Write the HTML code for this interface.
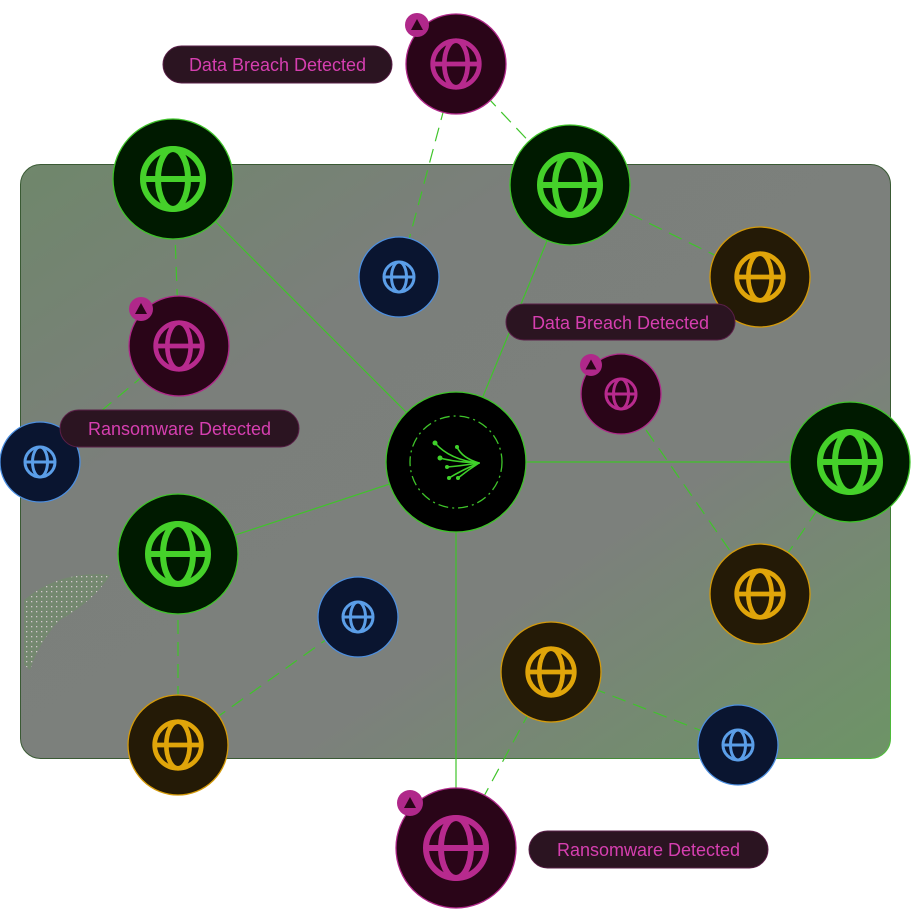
<!DOCTYPE html>
<html><head><meta charset="utf-8"><style>
html,body{margin:0;padding:0;background:#fff;width:912px;height:923px;overflow:hidden}
svg{display:block}
text{font-family:"Liberation Sans",sans-serif}
</style></head><body>
<svg width="912" height="923" viewBox="0 0 912 923" xmlns="http://www.w3.org/2000/svg">
<defs>
<linearGradient id="pg" x1="0" y1="0" x2="1" y2="1">
<stop offset="0" stop-color="#6f876b"/><stop offset="0.3" stop-color="#7b7f7b"/><stop offset="0.65" stop-color="#7c807c"/><stop offset="1" stop-color="#6d9466"/>
</linearGradient>
<linearGradient id="bd" x1="0" y1="0" x2="1" y2="1">
<stop offset="0" stop-color="#3a5a34"/><stop offset="0.7" stop-color="#3a5a34"/><stop offset="1" stop-color="#4fc23a"/>
</linearGradient>
<pattern id="dots" width="5" height="5" patternUnits="userSpaceOnUse"><rect width="5" height="5" fill="#728a6c"/><rect x="1" y="1" width="1.3" height="1.3" fill="#e8d8e0"/></pattern>
<symbol id="g" viewBox="-12 -12 24 24"><circle r="10" fill="none" stroke="currentColor" stroke-width="2"/><ellipse rx="5" ry="10" fill="none" stroke="currentColor" stroke-width="2"/><line x1="-10" x2="10" stroke="currentColor" stroke-width="2"/></symbol>
</defs>
<rect x="20.5" y="164.5" width="870" height="594" rx="20" fill="url(#pg)" stroke="url(#bd)" stroke-width="1"/>
<path d="M24 600 Q60 570 110 575 Q95 600 60 620 Q40 640 30 670 L24 665Z" fill="url(#dots)" opacity="0.8"/>
<g stroke="#3fc42a" stroke-width="1.2" fill="none">
<line x1="456" y1="462" x2="173" y2="179"/><line x1="456" y1="462" x2="570" y2="185"/>
<line x1="456" y1="462" x2="850" y2="462"/><line x1="456" y1="462" x2="178" y2="554"/>
<line x1="456" y1="462" x2="456" y2="848"/>
<g stroke-dasharray="14 8">
<line x1="456" y1="64" x2="570" y2="185"/><line x1="456" y1="64" x2="399" y2="277"/>
<line x1="173" y1="179" x2="179" y2="346"/><line x1="179" y1="346" x2="40" y2="462"/>
<line x1="570" y1="185" x2="760" y2="277"/><line x1="621" y1="394" x2="760" y2="594"/>
<line x1="760" y1="594" x2="850" y2="462"/><line x1="178" y1="554" x2="178" y2="745"/>
<line x1="178" y1="745" x2="358" y2="617"/><line x1="551" y1="672" x2="738" y2="745"/>
<line x1="551" y1="672" x2="456" y2="848"/>
</g></g>
<g stroke-width="1.3">
<circle cx="456" cy="462" r="70" fill="#000" stroke="#3fc42a"/>
<circle cx="456" cy="462" r="46" fill="none" stroke="#3fc42a" stroke-dasharray="10 4 2 4"/>
<g stroke="#3fd12a" stroke-linecap="round" fill="none" stroke-width="1.6">
<path d="M435 443 Q450 460 479 463"/><path d="M440 458 Q455 462 479 463"/><path d="M447 467 Q460 466 479 463"/><path d="M449 478 Q462 470 479 463"/><path d="M457 447 Q462 458 479 463"/><path d="M458 478 Q468 470 479 463"/>
</g>
<g fill="#3fd12a"><circle cx="435" cy="443" r="2.5"/><circle cx="440" cy="458" r="2.5"/><circle cx="447" cy="467" r="2"/><circle cx="449" cy="478" r="2"/><circle cx="457" cy="447" r="2"/><circle cx="458" cy="478" r="2"/></g>
<g fill="#001a00" stroke="#3fc42a">
<circle cx="173" cy="179" r="60"/><circle cx="570" cy="185" r="60"/><circle cx="850" cy="462" r="60"/><circle cx="178" cy="554" r="60"/>
</g>
<g fill="#0a1530" stroke="#4d8fe0">
<circle cx="399" cy="277" r="40"/><circle cx="40" cy="462" r="40"/><circle cx="358" cy="617" r="40"/><circle cx="738" cy="745" r="40"/>
</g>
<g fill="#241a06" stroke="#d49a0a">
<circle cx="760" cy="277" r="50"/><circle cx="760" cy="594" r="50"/><circle cx="551" cy="672" r="50"/><circle cx="178" cy="745" r="50"/>
</g>
<g fill="#2a0518" stroke="#b0288a">
<circle cx="456" cy="64" r="50"/><circle cx="179" cy="346" r="50"/><circle cx="621" cy="394" r="40"/><circle cx="456" cy="848" r="60"/>
</g>
</g>
<g color="#45d12a"><use href="#g" x="137" y="143" width="72" height="72"/><use href="#g" x="534" y="149" width="72" height="72"/><use href="#g" x="814" y="426" width="72" height="72"/><use href="#g" x="142" y="518" width="72" height="72"/></g>
<g color="#5b9ee8"><use href="#g" x="381" y="259" width="36" height="36"/><use href="#g" x="22" y="444" width="36" height="36"/><use href="#g" x="340" y="599" width="36" height="36"/><use href="#g" x="720" y="727" width="36" height="36"/></g>
<g color="#e0a50a"><use href="#g" x="732" y="249" width="56" height="56"/><use href="#g" x="732" y="566" width="56" height="56"/><use href="#g" x="523" y="644" width="56" height="56"/><use href="#g" x="150" y="717" width="56" height="56"/></g>
<g color="#b82a8e"><use href="#g" x="428" y="36" width="56" height="56"/><use href="#g" x="151" y="318" width="56" height="56"/><use href="#g" x="603" y="376" width="36" height="36"/><use href="#g" x="420" y="812" width="72" height="72"/></g>
<g>
<g transform="translate(417,25)"><circle r="12" fill="#b0288a"/><path d="M0 -6 L6 5 L-6 5Z" fill="#2a0518"/></g>
<g transform="translate(141,309)"><circle r="12" fill="#b0288a"/><path d="M0 -6 L6 5 L-6 5Z" fill="#2a0518"/></g>
<g transform="translate(591,365)"><circle r="11" fill="#b0288a"/><path d="M0 -5.5 L5.5 4.5 L-5.5 4.5Z" fill="#2a0518"/></g>
<g transform="translate(410,803)"><circle r="13" fill="#b0288a"/><path d="M0 -6 L6 5 L-6 5Z" fill="#2a0518"/></g>
</g>
<g fill="#2b1421" stroke="#5a1f48" stroke-width="1">
<rect x="163" y="46" width="229" height="37" rx="18.5"/><rect x="506" y="304" width="229" height="36" rx="18"/>
<rect x="60" y="410" width="239" height="37" rx="18.5"/><rect x="529" y="831" width="239" height="37" rx="18.5"/>
</g>
<g fill="#d63fb0" font-size="18" text-anchor="middle">
<text x="277.5" y="71">Data Breach Detected</text><text x="620.5" y="329">Data Breach Detected</text>
<text x="179.5" y="435">Ransomware Detected</text><text x="648.5" y="856">Ransomware Detected</text>
</g>
</svg>
</body></html>
